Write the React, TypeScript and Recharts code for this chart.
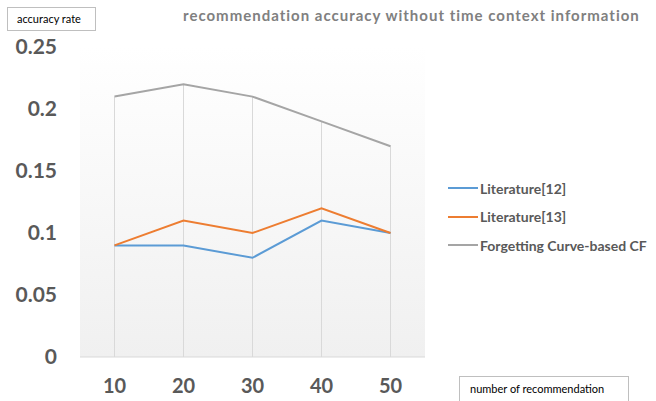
import { LineChart, Line, XAxis, YAxis, CartesianGrid, ReferenceLine } from 'recharts';

const categories = [10, 20, 30, 40, 50];
const literature12 = [0.09, 0.09, 0.08, 0.11, 0.1];
const literature13 = [0.09, 0.11, 0.1, 0.12, 0.1];
const forgettingCF = [0.21, 0.22, 0.21, 0.19, 0.17];
const yTicks = [0, 0.05, 0.1, 0.15, 0.2, 0.25];

const series = [
  { key: 'lit12', name: 'Literature[12]', color: '#5b9bd5' },
  { key: 'lit13', name: 'Literature[13]', color: '#ed7d31' },
  { key: 'fcf', name: 'Forgetting Curve-based CF', color: '#a5a5a5' },
];

const data = categories.map((n, i) => ({
  n,
  lit12: literature12[i],
  lit13: literature13[i],
  fcf: forgettingCF[i],
}));

const font = 'Lato, "Open Sans", sans-serif';

export default function App() {
  return (
    <div style={{ position: 'relative', width: 656, height: 401, background: '#fff' }}>
      <style>{`body{margin:0}`}</style>
      <LineChart width={656} height={401} data={data} margin={{ top: 47, right: 231, bottom: 0, left: 0 }}>
        <defs>
          <linearGradient id="bg" x1="0" y1="0" x2="0" y2="1">
            <stop offset="0%" stopColor="#ffffff" />
            <stop offset="100%" stopColor="#f0f0f0" />
          </linearGradient>
        </defs>
        <CartesianGrid horizontal={false} vertical={false} fill="url(#bg)" />
        <XAxis
          dataKey="n"
          height={44}
          padding={{ left: 34.5, right: 34.5 }}
          axisLine={{ stroke: '#d9d9d9' }}
          tickLine={false}
          tickSize={0}
          tickMargin={22}
          tick={{ fill: '#595959', fontSize: 20, fontWeight: 700, fontFamily: font }}
        />
        <YAxis
          width={80}
          domain={[0, 0.25]}
          ticks={yTicks}
          axisLine={false}
          tickLine={false}
          tickSize={0}
          tickMargin={23}
          tick={{ fill: '#595959', fontSize: 21, fontWeight: 700, fontFamily: font }}
        />
        {categories.map((n, i) => (
          <ReferenceLine
            key={n}
            segment={[{ x: n, y: 0 }, { x: n, y: Math.max(literature12[i], literature13[i], forgettingCF[i]) }]}
            stroke="#d9d9d9"
            strokeWidth={1}
          />
        ))}
        {series.map(s => (
          <Line
            key={s.key}
            dataKey={s.key}
            name={s.name}
            stroke={s.color}
            strokeWidth={2}
            dot={false}
            isAnimationActive={false}
          />
        ))}
      </LineChart>
      <div style={{ position: 'absolute', left: 448, top: 174, fontFamily: font, fontWeight: 700, fontSize: 14, color: '#595959' }}>
        {series.map(s => (
          <div key={s.key} style={{ display: 'flex', alignItems: 'center', height: 28.5 }}>
            <div style={{ width: 30, height: 2, background: s.color, marginRight: 2 }} />
            <span>{s.name}</span>
          </div>
        ))}
      </div>
      <div
        style={{
          position: 'absolute', left: 183, top: 6, fontFamily: font, fontWeight: 700,
          fontSize: 15, color: '#808080', letterSpacing: 1, whiteSpace: 'nowrap',
        }}
      >
        recommendation accuracy without time context information
      </div>
      <div
        style={{
          position: 'absolute', left: 7, top: 7, width: 89, height: 24, boxSizing: 'border-box',
          border: '1px solid #bfbfbf', background: '#fff', fontFamily: font, fontSize: 11,
          color: '#000', paddingLeft: 9, lineHeight: '22px',
        }}
      >
        accuracy rate
      </div>
      <div
        style={{
          position: 'absolute', left: 459, top: 376, width: 170, height: 30, boxSizing: 'border-box',
          border: '1px solid #bfbfbf', background: '#fff', fontFamily: font, fontSize: 11,
          color: '#000', paddingLeft: 10, lineHeight: '24px',
        }}
      >
        number of recommendation
      </div>
    </div>
  );
}
